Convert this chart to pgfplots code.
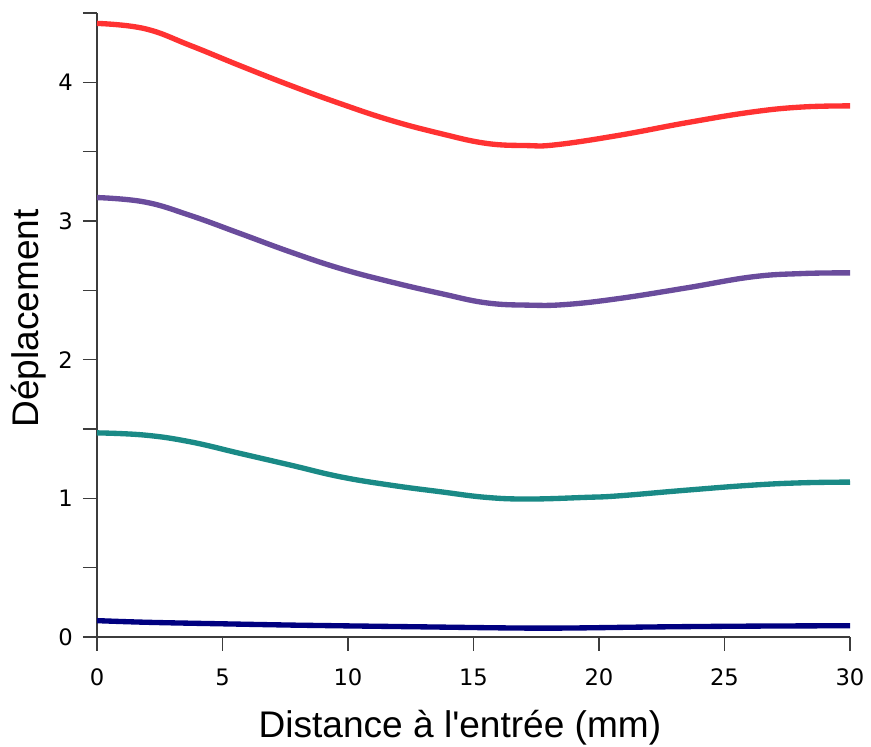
\documentclass[border=0pt]{standalone}
\usepackage{pgfplots}
\pgfplotsset{compat=1.18}
\usepackage{fontspec}
\newfontfamily\labelfont{Liberation Sans}
\newfontfamily\tickfont{DejaVu Sans}
\definecolor{cred}{RGB}{255,50,50}
\definecolor{cpurple}{RGB}{106,76,156}
\definecolor{cteal}{RGB}{26,138,134}
\definecolor{cnavy}{RGB}{0,0,128}
\definecolor{axgray}{RGB}{60,60,60}
\begin{document}
\begin{tikzpicture}
\begin{axis}[
  scale only axis,
  width=564.75pt, height=468pt,
  xmin=0, xmax=30, ymin=0, ymax=4.5,
  axis lines=left,
  axis line style={-, axgray, line width=1.1pt},
  tick style={axgray, line width=1.1pt},
  tick align=outside,
  major tick length=10.5pt,
  xtick={0,5,...,30},
  xticklabels={0,5,10,15,20,25,30},
  ytick={0,0.5,1,1.5,2,2.5,3,3.5,4,4.5},
  yticklabels={0,,1,,2,,3,,4,},
  tick label style={font=\tickfont\fontsize{17pt}{20pt}\selectfont, inner sep=0pt},
  xticklabel style={anchor=north, yshift=-13pt},
  yticklabel style={anchor=east, xshift=-7.5pt},
  every axis x label/.style={at={(axis description cs:0.482,-0.1458)}, anchor=center},
  every axis y label/.style={at={(axis description cs:-0.0903,0.5104)}, anchor=center, rotate=90},
  label style={font=\labelfont\fontsize{27.8pt}{33pt}\selectfont, inner sep=0pt},
  xlabel={Distance à l'entrée (mm)},
  ylabel={Déplacement},
  clip=false,
]
\addplot[cred, line width=4pt, smooth, tension=0.7] coordinates {
(0,4.425) (1.9,4.387) (3.7,4.267) (5.7,4.12) (7.7,3.978) (9.7,3.846) (11.7,3.726) (13.7,3.63) (15.5,3.56) (17.1,3.544) (18.3,3.55) (20.8,3.618) (23.5,3.709) (26.1,3.786) (28.1,3.822) (30,3.83)};
\addplot[cpurple, line width=4pt, smooth, tension=0.7] coordinates {
(0,3.169) (1.9,3.137) (3.7,3.041) (5.7,2.91) (7.7,2.777) (9.7,2.657) (11.7,2.561) (13.7,2.477) (15.5,2.41) (17.2,2.393) (18.7,2.398) (20.8,2.441) (23.5,2.518) (26.1,2.597) (28.1,2.621) (30,2.626)};
\addplot[cteal, line width=4pt, smooth, tension=0.7] coordinates {
(0,1.472) (1.9,1.456) (3.7,1.408) (5.7,1.324) (7.7,1.240) (9.7,1.155) (11.7,1.095) (13.7,1.047) (15.5,1.007) (17.2,0.995) (19.5,1.007) (20.8,1.018) (23.5,1.059) (26.1,1.095) (28.1,1.112) (30,1.117)};
\addplot[cnavy, line width=4pt, smooth, tension=0.7] coordinates {
(0,0.118) (2,0.106) (5,0.095) (8,0.085) (10,0.080) (13,0.073) (16,0.066) (17.5,0.064) (19,0.065) (22,0.072) (25,0.077) (28,0.080) (30,0.081)};
\coordinate (sw) at (rel axis cs:0,0);
\coordinate (ne) at (rel axis cs:1,1);
\end{axis}
\path[use as bounding box] ([shift={(-72.75pt,-82.5pt)}]sw) rectangle ([shift={(15.75pt,9.75pt)}]ne);
\end{tikzpicture}
\end{document}
